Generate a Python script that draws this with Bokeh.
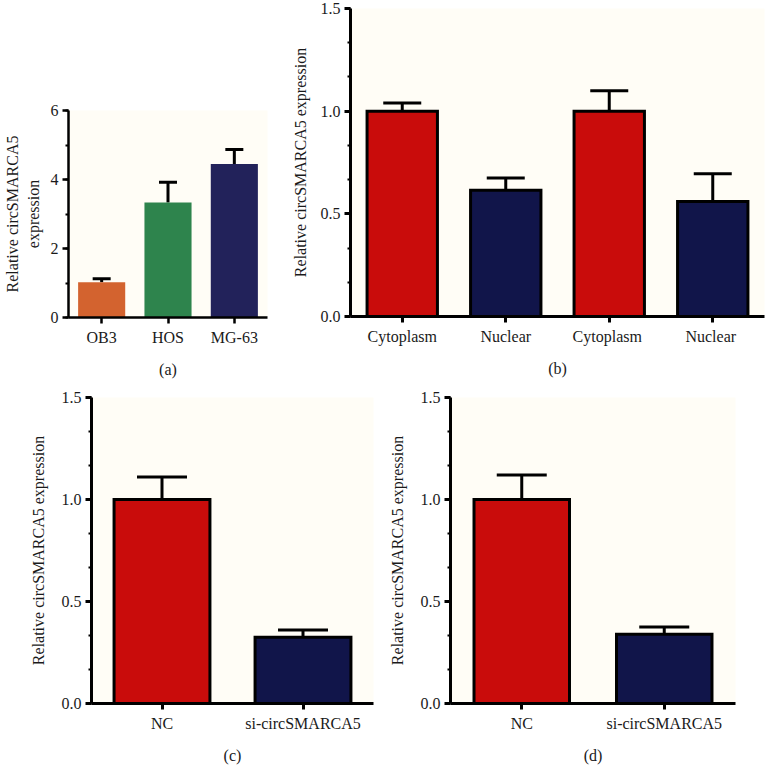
from bokeh.plotting import figure
from bokeh.models import (ColumnDataSource, Whisker, TeeHead, FactorRange, Range1d,
                          SingleIntervalTicker, PrintfTickFormatter)
from bokeh.layouts import column, row
from bokeh.embed import file_html
from bokeh.resources import INLINE

# ---- data ----
a_cats = ["OB3", "HOS", "MG-63"]
a_vals = [1.02, 3.33, 4.45]
a_errs = [0.10, 0.59, 0.42]
a_colors = ["#D3632F", "#2E844D", "#22225A"]

b_cats = ["Cytoplasm", "Nuclear", "Cytoplasm ", "Nuclear "]
b_vals = [1.00, 0.615, 1.00, 0.56]
b_errs = [0.04, 0.06, 0.10, 0.135]
b_colors = ["#C90C0B", "#11154A", "#C90C0B", "#11154A"]

c_cats = ["NC", "si-circSMARCA5"]
c_vals = [1.00, 0.325]
c_errs = [0.11, 0.035]
c_colors = ["#C90C0B", "#11154A"]

d_cats = ["NC", "si-circSMARCA5"]
d_vals = [1.00, 0.34]
d_errs = [0.12, 0.035]
d_colors = ["#C90C0B", "#11154A"]

YLABEL = "Relative circSMARCA5 expression"
FONT = "Liberation Serif"
BG = "#FFFDF6"


def panel(cats, vals, errs, colors, ymax, interval, nminor, bar_w, outline,
          cap, ylabel, xlabel, fw, fh, bl, br, bt, bb, axw, fmt, ylstand):
    p = figure(x_range=FactorRange(*cats, range_padding=0),
               y_range=Range1d(0, ymax),
               width=bl + fw + br, height=bt + fh + bb,
               min_border_left=bl, min_border_right=br,
               min_border_top=bt, min_border_bottom=bb,
               output_backend="svg", toolbar_location=None)
    p.background_fill_color = BG
    p.border_fill_color = "white"
    p.outline_line_color = None
    p.xgrid.visible = False
    p.ygrid.visible = False
    src = ColumnDataSource(dict(x=cats, top=vals,
                                upper=[v + e for v, e in zip(vals, errs)],
                                color=colors))
    w = Whisker(base="x", lower="top", upper="upper", source=src,
                line_width=3, line_color="black",
                upper_head=TeeHead(size=cap, line_width=3, line_color="black"),
                lower_head=None, level="underlay")
    p.add_layout(w)
    if outline:
        p.vbar(x="x", top="top", width=bar_w, source=src, fill_color="color",
               line_color="black", line_width=3, line_join="miter")
    else:
        p.vbar(x="x", top="top", width=bar_w, source=src, fill_color="color",
               line_color=None)
    p.yaxis.ticker = SingleIntervalTicker(interval=interval, num_minor_ticks=nminor)
    p.yaxis.formatter = PrintfTickFormatter(format=fmt)
    for ax in (p.xaxis[0], p.yaxis[0]):
        ax.axis_line_width = axw
        ax.axis_line_color = "black"
        ax.major_tick_line_width = axw
        ax.major_tick_out = 6
        ax.major_tick_in = 0
        ax.minor_tick_line_width = 2
        ax.minor_tick_out = 3
        ax.minor_tick_in = 0
        ax.major_label_text_font = FONT
        ax.major_label_text_font_size = "16px"
        ax.major_label_text_color = "#1a1a1a"
        ax.axis_label_text_font = FONT
        ax.axis_label_text_font_size = "16px"
        ax.axis_label_text_font_style = "normal"
        ax.axis_label_text_color = "#1a1a1a"
    p.xaxis.minor_tick_line_color = None
    p.xaxis.major_label_standoff = 5
    p.xaxis.axis_label_standoff = 12
    p.yaxis.major_label_standoff = 4
    p.yaxis.axis_label_standoff = ylstand
    p.yaxis.axis_label = ylabel
    p.xaxis.axis_label = xlabel
    return p


pa = panel(a_cats, a_vals, a_errs, a_colors, 6, 2, 2, 0.71, False, 18,
           "Relative circSMARCA5\nexpression", "(a)",
           199, 208, 68, 21, 110, 62, 2.5, "%d", 6)
pb = panel(b_cats, b_vals, b_errs, b_colors, 1.5, 0.5, 3, 0.68, True, 38,
           YLABEL, "(b)", 416, 308, 60, 1, 8, 64, 3, "%.1f", 9)
pb.xaxis.major_label_overrides = {"Cytoplasm ": "Cytoplasm", "Nuclear ": "Nuclear"}
pc = panel(c_cats, c_vals, c_errs, c_colors, 1.5, 0.5, 3, 0.68, True, 50,
           YLABEL, "(c)", 282, 311, 91, 12, 17, 58, 3, "%.1f", 12)
pd_ = panel(d_cats, d_vals, d_errs, d_colors, 1.5, 0.5, 3, 0.67, True, 50,
            YLABEL, "(d)", 285, 311, 65, 30, 17, 58, 3, "%.1f", 12)

layout = column(row(column(pa), column(pb)), row(column(pc), column(pd_)))
open("out.html", "w").write(file_html(layout, INLINE))
